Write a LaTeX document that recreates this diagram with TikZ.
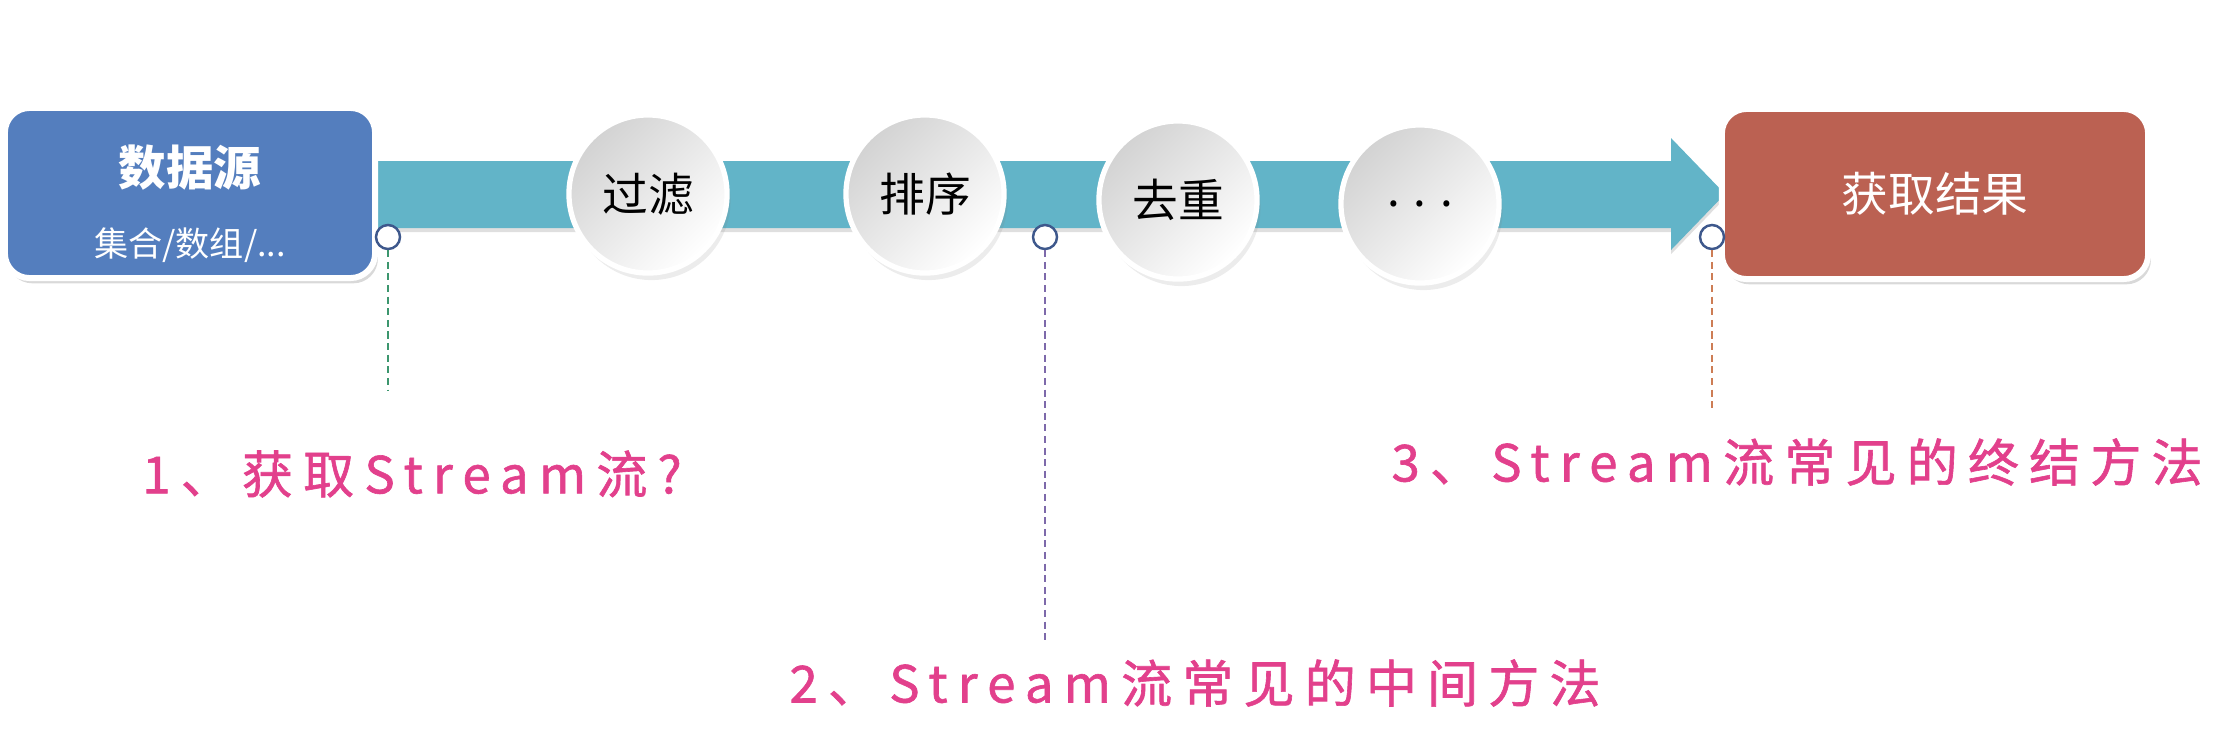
\documentclass[tikz,border=0pt]{standalone}
\usepackage{fontspec}
\setmainfont{Noto Sans CJK SC}
\newfontfamily\notefont[LetterSpace=20, FakeBold=1.2]{Noto Sans CJK SC}
\usetikzlibrary{shadows}

\definecolor{srcblue}{RGB}{84,126,190}
\definecolor{resred}{RGB}{187,97,82}
\definecolor{bandteal}{RGB}{98,180,200}
\definecolor{pinblue}{RGB}{62,88,140}
\definecolor{notepink}{RGB}{226,64,140}
\definecolor{dashgreen}{RGB}{60,150,110}
\definecolor{dashpurple}{RGB}{125,105,170}
\definecolor{dashorange}{RGB}{205,125,85}

\begin{document}
\begin{tikzpicture}[x=0.01cm, y=-0.01cm,
  box/.style={rectangle, draw=white, line width=1.7pt, rounded corners=7pt,
    text=white, minimum width=3.70cm, minimum height=1.70cm,
    drop shadow={opacity=0.3, shadow xshift=0.8pt, shadow yshift=-1.5pt}},
  stage/.style={circle, draw=white, line width=1.5pt, minimum size=1.58cm,
    top color=gray!35, bottom color=white, shading angle=45,
    font=\fontsize{13pt}{15pt}\selectfont,
    drop shadow={opacity=0.15, shadow xshift=1pt, shadow yshift=-2pt}},
  tapdot/.style={circle, draw=pinblue, fill=white, line width=0.7pt,
    minimum size=0.24cm, inner sep=0pt},
  guide/.style={line width=0.4pt, dash pattern=on 2pt off 1.3pt},
  note/.style={text=notepink, font=\notefont\fontsize{14.5pt}{16pt}\selectfont},
]
  \useasboundingbox (0,0) rectangle (2230,742);

  % the band with its head
  \fill[bandteal, drop shadow={opacity=0.25, shadow xshift=0pt, shadow yshift=-1.2pt}]
    (360,161) -- (1671,161) -- (1671,138) -- (1725,194)
    -- (1671,250) -- (1671,228) -- (360,228) -- cycle;

  % source and result
  \node[box, fill=srcblue] (src) at (190,193) {};
  \node[text=white, font=\bfseries\fontsize{13.5pt}{16pt}\selectfont] (srctitle) at (190,168) {数据源};
  \node[text=white, font=\fontsize{9.7pt}{12pt}\selectfont] (srcsub) at (190,245) {集合/数组/...};
  \node[box, fill=resred, minimum width=4.26cm, font=\fontsize{13.3pt}{16pt}\selectfont] (res) at (1935,194) {获取结果};

  % intermediate steps
  \node[stage] (filter) at (648,194) {过滤};
  \node[stage] (sort)   at (925,194) {排序};
  \node[stage] (dedup)  at (1178,200) {去重};
  \node[stage] (more)   at (1420,204) {. . .};

  % hooks and guides
  \node[tapdot] (p1) at (388,237) {};
  \node[tapdot] (p2) at (1045,237) {};
  \node[tapdot] (p3) at (1712,237) {};
  \coordinate (e1) at (388,391);
  \coordinate (e2) at (1045,640);
  \coordinate (e3) at (1712,412);
  \draw[guide, dashgreen]  (p1.south) -- (e1);
  \draw[guide, dashpurple] (p2.south) -- (e2);
  \draw[guide, dashorange] (p3.south) -- (e3);

  % notes
  \node[note] (n1) at (412,474) {1、获取Stream流?};
  \node[note] (n2) at (1195,683) {2、Stream流常见的中间方法};
  \node[note] (n3) at (1797,462) {3、Stream流常见的终结方法};
\end{tikzpicture}
\end{document}
